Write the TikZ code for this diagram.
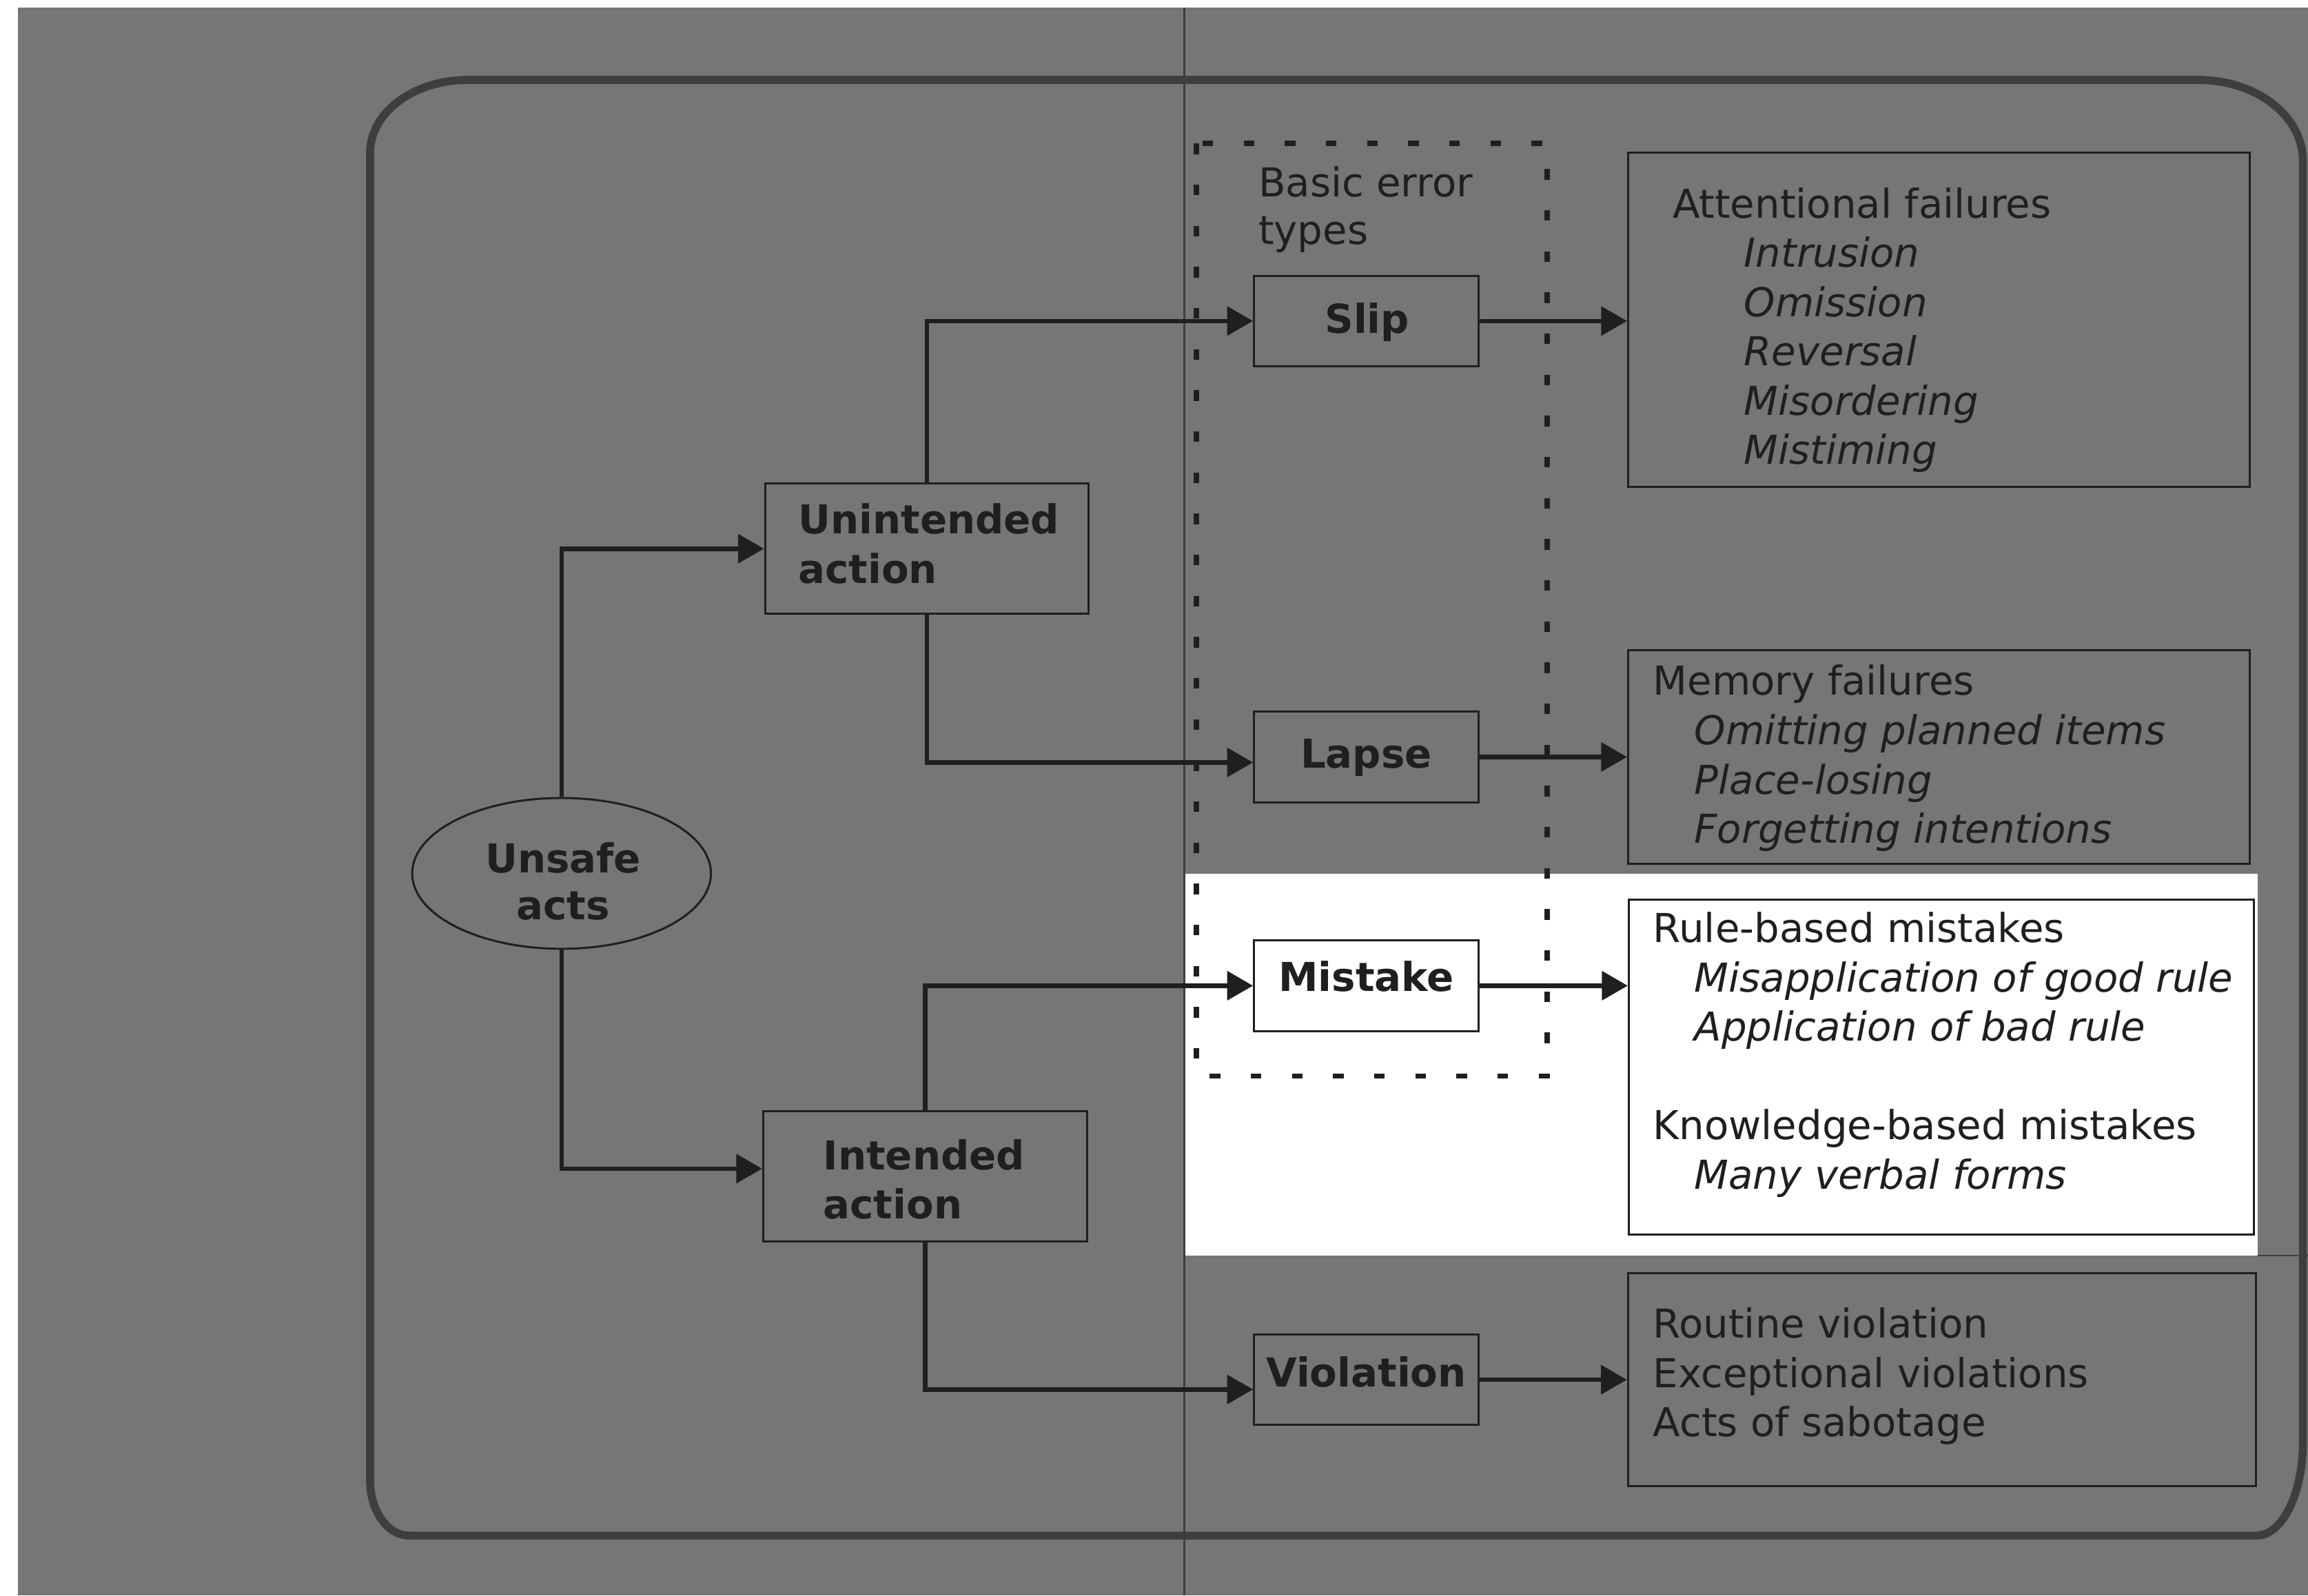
\documentclass[tikz,border=0pt]{standalone}
\usepackage{fontspec}
\setmainfont{DejaVu Sans}
\usetikzlibrary{arrows.meta,shapes.geometric}
\definecolor{bg}{HTML}{757678}
\definecolor{frame}{HTML}{3D3E40}
\definecolor{ink}{HTML}{1F1F1F}
\begin{document}
\begin{tikzpicture}[x=0.02cm,y=-0.02cm,
  reg/.style={font=\fontsize{15.4}{19.07}\selectfont},
  bold/.style={font=\fontsize{15.4}{19.07}\selectfont\bfseries},
  box/.style={draw=ink, line width=0.8pt, inner sep=0pt, rectangle},
  errbox/.style={box, minimum width=3.05cm, minimum height=1.23cm},
  actbox/.style={box, minimum width=4.4cm, minimum height=1.77cm},
  lbl/.style={text=ink, inner sep=0pt, anchor=base},
  lbll/.style={text=ink, inner sep=0pt, anchor=base west, align=left},
  conn/.style={draw=ink, line width=1.75pt, -{Triangle[length=10pt,width=11pt]}},
  hairline/.style={draw=frame, line width=0.7pt},
  reg]
\useasboundingbox (0,0) rectangle (1568,1084);
% background
\fill[white] (0,0) rectangle (1568,1084);
\fill[bg] (12,5) rectangle (1568,1084);
\fill[white] (805.4,593.6) rectangle (1533.7,853);
\draw[hairline] (804.5,5) -- (804.5,1084);
\draw[hairline] (1533.7,853) -- (1568,853);
% outer frame
\draw[frame, line width=3.1pt]
  (251.4,103.8) .. controls (251.4,76.5) and (281.1,54.3) .. (317.7,54.3)
  -- (1493.5,54.3) .. controls (1532.7,54.3) and (1564.5,78.8) .. (1564.5,109)
  -- (1564.5,980) .. controls (1564.5,1015) and (1550.4,1043.3) .. (1533,1043.3)
  -- (278,1043.3) .. controls (263.3,1043.3) and (251.4,1026.5) .. (251.4,1005.7)
  -- cycle;
% basic error types box
\draw[ink, line width=2pt, dash pattern=on 4.1pt off 11.8pt] (812.8,97.5) rectangle (1051,731);
% (multi-line labels are anchored at the baseline of their last line)
\node[lbll, font=\fontsize{15.4}{18.6}\selectfont] (basic-t) at (854.6,166.2) {Basic error\\types};
% unsafe acts
\node[ellipse, draw=ink, line width=0.8pt, minimum width=4.06cm, minimum height=2.05cm, inner sep=0pt] (unsafe) at (381.5,593.4) {};
\node[lbl, align=center, font=\fontsize{15.4}{18.2}\selectfont\bfseries] (unsafe-t) at (382.6,625) {Unsafe\\acts};
% action boxes
\node[actbox] (unint) at (629.7,372.8) {};
\node[lbll, font=\fontsize{15.4}{19.1}\selectfont\bfseries] (unint-t) at (542,396.4) {Unintended\\action};
\node[actbox] (int) at (628.5,799) {};
\node[lbll, font=\fontsize{15.4}{19.1}\selectfont\bfseries] (int-t) at (559,828.1) {Intended\\action};
% error type boxes
\node[errbox] (slip) at (928.2,218.1) {};
\node[lbl, bold] (slip-t) at (928.8,226.2) {Slip};
\node[errbox] (lapse) at (928.2,514.3) {};
\node[lbl, bold] (lapse-t) at (928.2,522) {Lapse};
\node[errbox, fill=white] (mistake) at (928.2,669.7) {};
\node[lbl, bold] (mistake-t) at (928.2,673.5) {Mistake};
\node[errbox] (viol) at (928.2,937.4) {};
\node[lbl, bold] (viol-t) at (928.2,942.3) {Violation};
% description boxes
\node[box, minimum width=8.45cm, minimum height=4.54cm] (att) at (1317.3,217.3) {};
\node[lbll] (att-t) at (1136,315.5) {Attentional failures\\
  \hspace*{0.97cm}\textit{Intrusion}\\
  \hspace*{0.97cm}\textit{Omission}\\
  \hspace*{0.97cm}\textit{Reversal}\\
  \hspace*{0.97cm}\textit{Misordering}\\
  \hspace*{0.97cm}\textit{Mistiming}};
\node[box, minimum width=8.45cm, minimum height=2.9cm] (mem) at (1317.3,514.2) {};
\node[lbll] (mem-t) at (1122.7,572.9) {Memory failures\\
  \hspace*{0.562cm}\textit{Omitting planned items}\\
  \hspace*{0.562cm}\textit{Place-losing}\\
  \hspace*{0.562cm}\textit{Forgetting intentions}};
\node[box, fill=white, minimum width=8.5cm, minimum height=4.56cm] (rule) at (1319,725) {};
\node[lbll] (rule-t) at (1122.7,807.8) {Rule-based mistakes\\
  \hspace*{0.562cm}\textit{Misapplication of good rule}\\
  \hspace*{0.562cm}\textit{Application of bad rule}\\[19.07pt]
  Knowledge-based mistakes\\
  \hspace*{0.562cm}\textit{Many verbal forms}};
\node[box, minimum width=8.53cm, minimum height=2.9cm] (vbox) at (1319.2,937.4) {};
\node[lbll] (vbox-t) at (1122.7,976) {Routine violation\\Exceptional violations\\Acts of sabotage};
% connectors
\draw[conn] (unsafe.north) |- (unint.west);
\draw[conn] (unsafe.south) |- ([yshift=0.1cm]int.west);
\draw[conn] (unint.north) |- (slip.west);
\draw[conn] (unint.south) |- ([yshift=-0.074cm]lapse.west);
\draw[conn] (int.north) |- (mistake.west);
\draw[conn] (int.south) |- ([yshift=-0.132cm]viol.west);
\draw[conn] (slip.east) -- (slip.east -| att.west);
\draw[conn] (lapse.east) -- (lapse.east -| mem.west);
\draw[conn] (mistake.east) -- (mistake.east -| rule.west);
\draw[conn] (viol.east) -- (viol.east -| vbox.west);
\end{tikzpicture}
\end{document}
